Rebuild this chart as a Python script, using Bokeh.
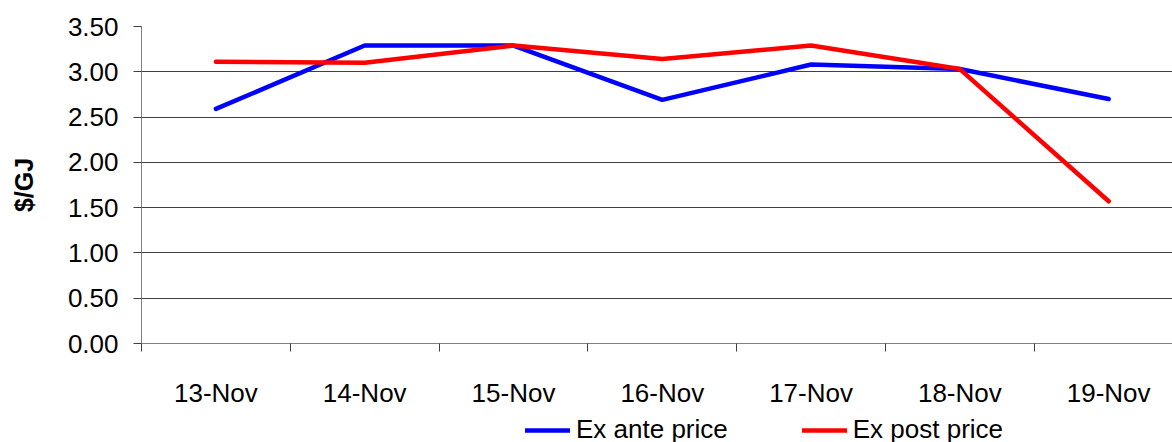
from bokeh.plotting import figure
from bokeh.layouts import column
from bokeh.models import Range1d, FixedTicker, Legend, LegendItem
from bokeh.embed import file_html
from bokeh.resources import INLINE

dates = ["13-Nov", "14-Nov", "15-Nov", "16-Nov", "17-Nov", "18-Nov", "19-Nov"]
ex_ante = [2.59, 3.29, 3.29, 2.69, 3.08, 3.03, 2.70]
ex_post = [3.11, 3.10, 3.29, 3.14, 3.29, 3.03, 1.57]
y_ticks = [0.0, 0.5, 1.0, 1.5, 2.0, 2.5, 3.0, 3.5]
series_names = ["Ex ante price", "Ex post price"]
series_colors = ["#0000FF", "#FF0000"]

FONT = "Liberation Sans"
xs = [i + 0.5 for i in range(len(dates))]
series = [ex_ante, ex_post]

p = figure(width=1172, height=410, output_backend="svg", toolbar_location=None,
           x_range=Range1d(0, 6.929), y_range=Range1d(0, 3.5),
           min_border_top=26, min_border_right=0, min_border_left=141,
           min_border_bottom=67)
p.outline_line_color = None
p.background_fill_color = "white"
p.border_fill_color = "white"

# x axis: labels at category centres, tick marks at category boundaries
xa = p.xaxis[0]
xa.ticker = FixedTicker(ticks=xs, minor_ticks=list(range(0, 8)))
xa.major_label_overrides = {x: d for x, d in zip(xs, dates)}
xa.major_tick_line_color = None
xa.major_tick_out = 0
xa.major_tick_in = 0
xa.minor_tick_out = 8
xa.minor_tick_in = 0
xa.minor_tick_line_color = "#404040"
xa.axis_line_color = "#808080"
xa.major_label_text_font = FONT
xa.major_label_text_font_size = "26px"
xa.major_label_text_color = "black"
xa.major_label_standoff = 26

ya = p.yaxis[0]
ya.ticker = FixedTicker(ticks=y_ticks)
ya.major_label_overrides = {t: f"{t:.2f}" for t in y_ticks}
ya.major_tick_out = 8
ya.major_tick_in = 0
ya.major_tick_line_color = "#404040"
ya.minor_tick_line_color = None
ya.axis_line_color = "#808080"
ya.major_label_text_font = FONT
ya.major_label_text_font_size = "26px"
ya.major_label_text_color = "black"
ya.major_label_standoff = 15
ya.axis_label = "$/GJ"
ya.axis_label_text_font = FONT
ya.axis_label_text_font_style = "bold"
ya.axis_label_text_font_size = "25px"
ya.axis_label_text_color = "black"
ya.axis_label_standoff = 27

p.xgrid.grid_line_color = None
p.ygrid.ticker = FixedTicker(ticks=y_ticks[1:])
p.ygrid.grid_line_color = "#404040"
p.ygrid.grid_line_width = 1

for vals, col in zip(series, series_colors):
    p.line(xs, vals, line_color=col, line_width=4.5,
           line_join="round", line_cap="round")

# legend strip below the chart (its frame is aligned with the chart's frame)
lg = figure(width=1172, height=32, output_backend="svg", toolbar_location=None,
            x_axis_type=None, y_axis_type=None,
            x_range=Range1d(0, 1), y_range=Range1d(-2, -1),
            min_border=0)
lg.outline_line_color = None
lg.xgrid.grid_line_color = None
lg.ygrid.grid_line_color = None
items = []
for name, vals, col in zip(series_names, series, series_colors):
    # series kept out of view here; only its legend swatch is shown
    r = lg.line(xs, vals, line_color=col, line_width=4.5, line_cap="round")
    items.append(LegendItem(label=name, renderers=[r]))
legend = Legend(items=items, orientation="horizontal", location=(384, -3),
                label_text_font=FONT, label_text_font_size="26px",
                label_text_color="black", glyph_width=45, glyph_height=20,
                label_standoff=6, spacing=74, padding=0, margin=0,
                border_line_color=None, background_fill_alpha=0)
lg.add_layout(legend, "center")

open("out.html", "w").write(file_html(column(p, lg), INLINE))
